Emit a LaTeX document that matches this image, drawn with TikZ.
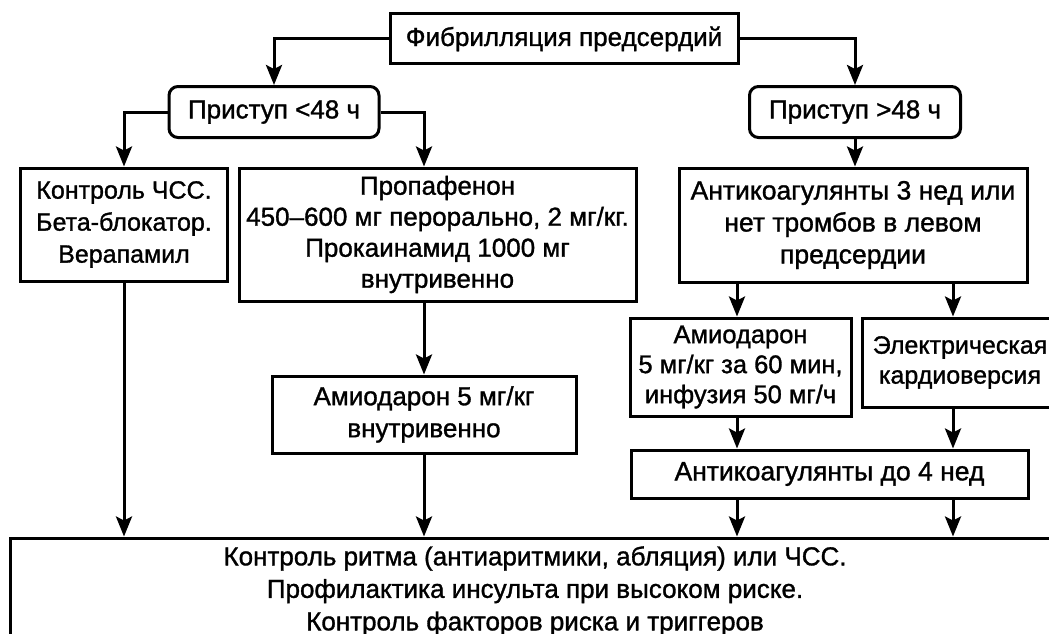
\documentclass[tikz,border=0pt]{standalone}
\usepackage{fontspec}
\setmainfont{Liberation Sans}[BoldFont={Liberation Sans},BoldFeatures={FakeBold=1.2}]
\usetikzlibrary{arrows.meta,calc}
\begin{document}
\begin{tikzpicture}[x=1pt,y=-1pt,
  every node/.style={font=\fontsize{26}{31}\selectfont\bfseries},
  box/.style={draw=black,line width=3pt,align=center,inner sep=0pt,fill=white},
  rbox/.style={box,rounded corners=9pt},
  arr/.style={line width=3pt,-{Stealth[width=16pt,length=20pt,inset=4pt]}}]
\useasboundingbox (0,0) rectangle (1049,634);
\clip (0,0) rectangle (1049,634);
\fill[white] (0,0) rectangle (1049,634);
% columns
\coordinate (c1) at (124,0);
\coordinate (c2) at (424,0);
\coordinate (c3) at (737,0);
\coordinate (c4) at (953,0);
\coordinate (cl) at (274,0);
\coordinate (cr) at (855,0);
% nodes
\node[box,minimum width=348pt,minimum height=50pt] (top) at (564,39) {Фибрилляция предсердий};
\node[rbox,minimum width=210pt,minimum height=51pt] (lt) at (274,112) {Приступ <48 ч};
\node[rbox,minimum width=211pt,minimum height=51pt] (gt) at (855,112) {Приступ >48 ч};
\node[box,minimum width=207pt,minimum height=113pt,font=\fontsize{25}{32}\selectfont\bfseries] (ctrl) at (124,224.5) {Контроль ЧСС.\\Бета-блокатор.\\Верапамил};
\node[box,minimum width=397pt,minimum height=133pt] (prop) at (437.5,234.5) {Пропафенон\\450–600 мг перорально, 2 мг/кг.\\Прокаинамид 1000 мг\\внутривенно};
\node[box,minimum width=304pt,minimum height=77pt,font=\fontsize{26}{32}\selectfont\bfseries] (amio5) at (424,414.5) {Амиодарон 5 мг/кг\\внутривенно};
\node[box,minimum width=348pt,minimum height=114pt,font=\fontsize{26.5}{32}\selectfont\bfseries] (anti3) at (853,225) {Антикоагулянты 3 нед или\\нет тромбов в левом\\предсердии};
\node[box,minimum width=221pt,minimum height=98pt,font=\fontsize{25.5}{30}\selectfont\bfseries] (amior) at (740.5,367) {Амиодарон\\5 мг/кг за 60 мин,\\инфузия 50 мг/ч};
\node[box,minimum width=196pt,minimum height=89pt,font=\fontsize{25}{30}\selectfont\bfseries] (elec) at (960,362.5) {Электрическая\\кардиоверсия};
\node[box,minimum width=397pt,minimum height=48pt,font=\fontsize{26.5}{31}\selectfont\bfseries] (anti4) at (829.5,474) {Антикоагулянты до 4 нед};
\node[box,minimum width=1050pt,minimum height=106pt,font=\fontsize{26}{32.5}\selectfont\bfseries] (bot) at (535,591) {Контроль ритма (антиаритмики, абляция) или ЧСС.\\Профилактика инсульта при высоком риске.\\Контроль факторов риска и триггеров};
% connectors
\draw[arr] (top.west) -| (cl |- lt.north);
\draw[arr] (top.east) -| (cr |- gt.north);
\draw[arr] (lt.west) -| (c1 |- ctrl.north);
\draw[arr] (lt.east) -| (c2 |- prop.north);
\draw[arr] (gt.south) -- (cr |- anti3.north);
\draw[arr] (c2 |- prop.south) -- (c2 |- amio5.north);
\draw[arr] (c3 |- anti3.south) -- (c3 |- amior.north);
\draw[arr] (c4 |- anti3.south) -- (c4 |- elec.north);
\draw[arr] (c3 |- amior.south) -- (c3 |- anti4.north);
\draw[arr] (c4 |- elec.south) -- (c4 |- anti4.north);
\draw[arr] (c3 |- anti4.south) -- (c3 |- bot.north);
\draw[arr] (c4 |- anti4.south) -- (c4 |- bot.north);
\draw[arr] (c1 |- ctrl.south) -- (c1 |- bot.north);
\draw[arr] (c2 |- amio5.south) -- (c2 |- bot.north);
\end{tikzpicture}
\end{document}
